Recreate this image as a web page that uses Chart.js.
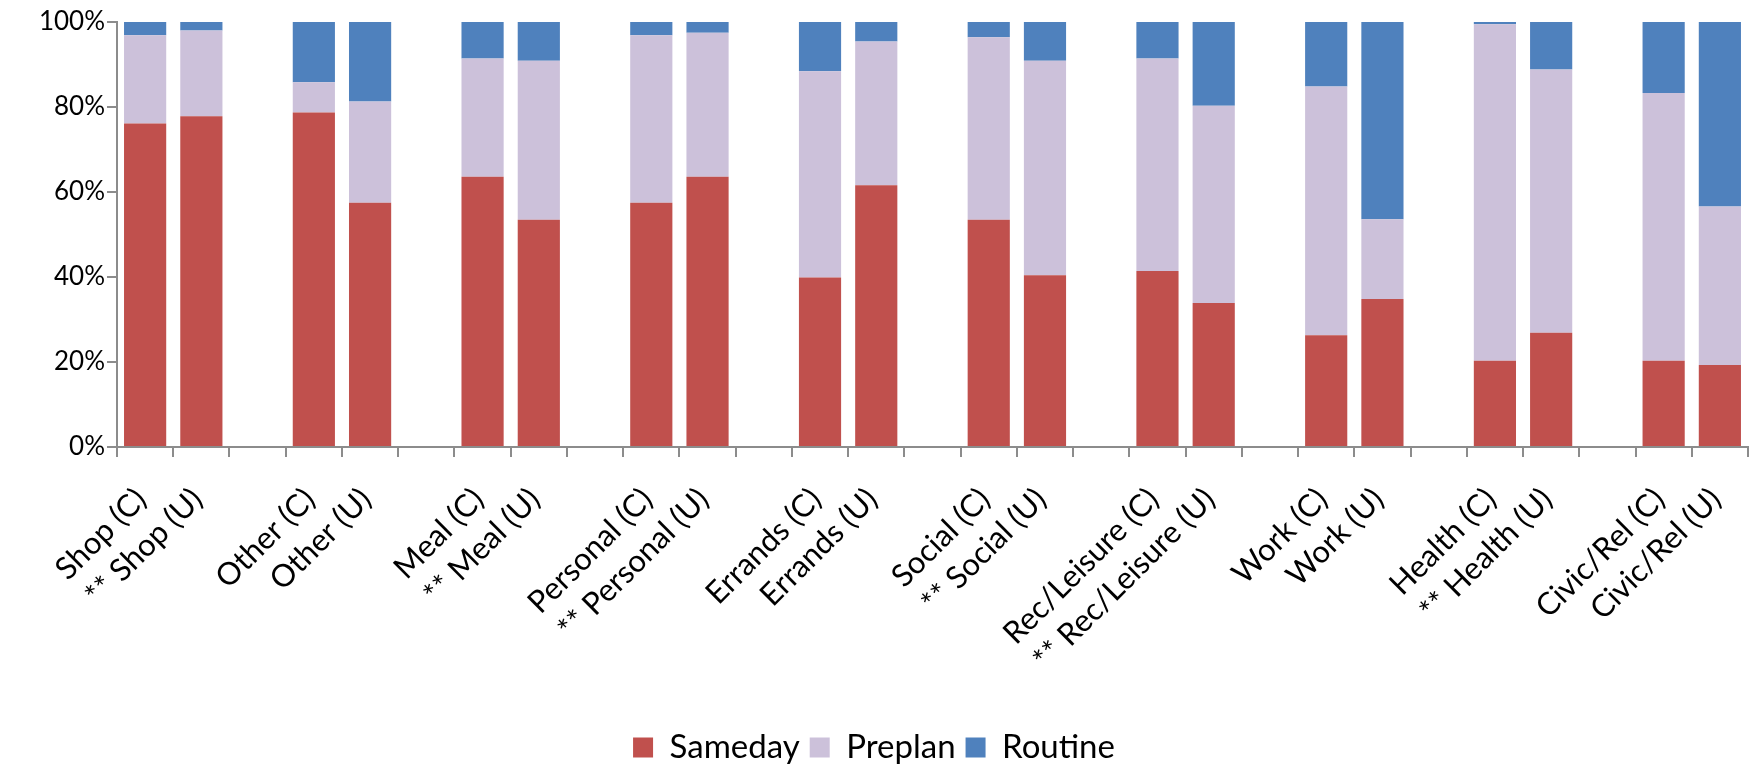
<!DOCTYPE html>
<html>
<head>
<meta charset="utf-8">
<script src="https://cdn.jsdelivr.net/npm/chart.js@4/dist/chart.umd.min.js"></script>
<style>
  html, body { margin: 0; padding: 0; background: #ffffff; overflow: hidden; }
  canvas { display: block; }
</style>
</head>
<body>
<canvas id="c" width="1758" height="765"></canvas>
<script>
// Category slots (empty strings are the spacer slots between groups)
const categories = [
  'Shop (C)', '** Shop (U)', '',
  'Other (C)', 'Other (U)', '',
  'Meal (C)', '** Meal (U)', '',
  'Personal (C)', '** Personal (U)', '',
  'Errands (C)', 'Errands (U)', '',
  'Social (C)', '** Social (U)', '',
  'Rec/Leisure (C)', '** Rec/Leisure (U)', '',
  'Work (C)', 'Work (U)', '',
  'Health (C)', '** Health (U)', '',
  'Civic/Rel (C)', 'Civic/Rel (U)'
];

// Percent shares
const sameday = [76.1, 77.8, null, 78.7, 57.5, null, 63.6, 53.5, null, 57.5, 63.6, null,
                 39.9, 61.6, null, 53.5, 40.4, null, 41.4, 33.9, null, 26.3, 34.8, null,
                 20.3, 26.9, null, 20.3, 19.3];
const preplan = [20.8, 20.2, null, 7.1, 23.8, null, 27.8, 37.4, null, 39.4, 33.9, null,
                 48.5, 33.8, null, 42.9, 50.5, null, 50.0, 46.4, null, 58.5, 18.8, null,
                 79.2, 61.9, null, 63.0, 37.3];
const routine = [3.1, 2.0, null, 14.2, 18.7, null, 8.6, 9.1, null, 3.1, 2.5, null,
                 11.6, 4.6, null, 3.6, 9.1, null, 8.6, 19.7, null, 15.2, 46.4, null,
                 0.5, 11.2, null, 16.7, 43.4];

const yTicks = [0, 20, 40, 60, 80, 100];
const seriesNames = ['Sameday', 'Preplan', 'Routine'];

const FONT = 'Lato, "Open Sans", sans-serif';
const AXIS = '#8c8c8c';

new Chart(document.getElementById('c'), {
  type: 'bar',
  data: {
    labels: categories,
    datasets: [
      { label: seriesNames[0], data: sameday, backgroundColor: '#C0504D' },
      { label: seriesNames[1], data: preplan, backgroundColor: '#CCC1DA' },
      { label: seriesNames[2], data: routine, backgroundColor: '#4F81BD' }
    ]
  },
  options: {
    responsive: false,
    devicePixelRatio: 1,
    animation: false,
    datasets: { bar: { categoryPercentage: 1.0, barPercentage: 0.75 } },
    layout: { padding: { top: 22, right: 10, left: 0, bottom: -9 } },
    plugins: {
      tooltip: { enabled: false },
      legend: {
        position: 'bottom',
        labels: {
          font: { family: FONT, size: 33 },
          color: '#000000',
          boxWidth: 20,
          boxHeight: 20,
          padding: 10
        }
      }
    },
    scales: {
      x: {
        stacked: true,
        grid: { drawOnChartArea: false, drawTicks: true, tickLength: 10, color: AXIS, lineWidth: 2, offset: true },
        border: { color: AXIS, width: 2 },
        ticks: {
          autoSkip: false,
          maxRotation: 45,
          minRotation: 45,
          padding: 24,
          labelOffset: -4,
          color: '#000000',
          font: { family: FONT, size: 31 }
        },
        afterFit: (s) => { s.height = 765 + 9 - 53 - 447; s.paddingRight = 0; s.paddingLeft = 0; }
      },
      y: {
        stacked: true,
        min: 0,
        max: 100,
        afterBuildTicks: (s) => { s.ticks = yTicks.map(v => ({ value: v })); },
        grid: { drawOnChartArea: false, drawTicks: true, tickLength: 10, color: AXIS, lineWidth: 2 },
        border: { color: AXIS, width: 2 },
        ticks: {
          padding: 2,
          color: '#000000',
          font: { family: FONT, size: 26 },
          callback: (v) => v + '%'
        },
        afterFit: (s) => { s.width = 117; }
      }
    }
  }
});
</script>
</body>
</html>
